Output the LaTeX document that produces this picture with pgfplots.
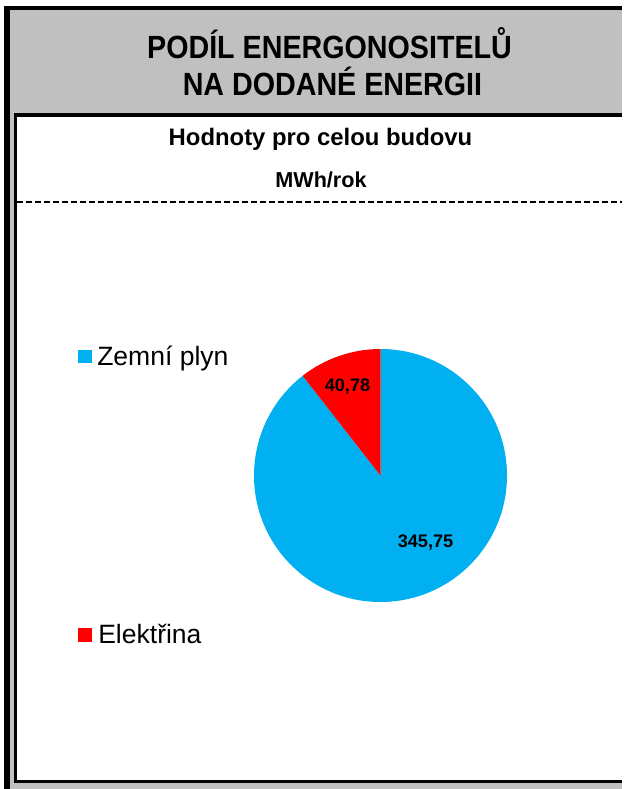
\documentclass[border=0pt]{standalone}
\usepackage{fontspec}
\setmainfont{Liberation Sans}
\usepackage{pgfplots}
\usepackage{pgfplotstable}
\pgfplotsset{compat=1.18}
\definecolor{gasblue}{HTML}{00B0F0}
\definecolor{elred}{HTML}{FF0000}
\definecolor{framegray}{HTML}{C0C0C0}
\pgfplotstableread{
label value
Zemni 345.75
Elektrina 40.78
}\piedata
\begin{document}
\begin{tikzpicture}
\begin{scope}[x=0.75pt,y=-0.75pt]
\fill[white] (0,0) rectangle (622,789);
\fill[framegray] (10,10) rectangle (622,789);
\fill[black] (4,6) rectangle (622,10);
\fill[black] (4,6) rectangle (10,789);
\fill[white] (17,117) rectangle (622,780);
\fill[black] (14,113) rectangle (622,117);
\fill[black] (14,113) rectangle (17,783);
\fill[black] (14,780) rectangle (622,783);
\draw[line width=1.8pt, dash pattern=on 4.5pt off 2.25pt] (17,202) -- (622,202);
\node[anchor=base, inner sep=0pt, font=\fontsize{21.5}{25}\selectfont\bfseries] at (329.5,58) {\scalebox{1}[1.12]{PODÍL ENERGONOSITELŮ}};
\node[anchor=base, inner sep=0pt, font=\fontsize{21.5}{25}\selectfont\bfseries] at (332.5,95) {\scalebox{1}[1.12]{NA DODANÉ ENERGII}};
\node[anchor=base, inner sep=0pt, font=\fontsize{17.9}{21}\selectfont\bfseries] at (320.5,145) {Hodnoty pro celou budovu};
\node[anchor=base, inner sep=0pt, font=\fontsize{16.2}{19}\selectfont\bfseries] at (321,187) {MWh/rok};
\fill[gasblue] (78,350) rectangle (92,363);
\node[anchor=base west, inner sep=0pt, font=\fontsize{19.9}{24}\selectfont] at (97,365) {Zemní plyn};
\fill[elred] (78,628) rectangle (92,642);
\node[anchor=base west, inner sep=0pt, font=\fontsize{19.9}{24}\selectfont] at (98,643) {Elektřina};
\end{scope}
\pgfplotstablegetelem{0}{value}\of\piedata \let\vA\pgfplotsretval
\pgfplotstablegetelem{1}{value}\of\piedata \let\vB\pgfplotsretval
\pgfmathsetmacro{\angB}{360*\vB/(\vA+\vB)}
\begin{axis}[at={(285.375pt,-356.625pt)}, anchor=center, x=94.875pt, y=94.875pt,
  xmin=-1, xmax=1, ymin=-1, ymax=1, hide axis, clip=false]
\fill[gasblue] (axis cs:0,0) -- (axis cs:0,1) arc[start angle=90, end angle={90-(360-\angB)}, radius=94.875pt] -- cycle;
\fill[elred] (axis cs:0,0) -- (axis cs:0,1) arc[start angle=90, end angle={90+\angB}, radius=94.875pt] -- cycle;
\node[anchor=base, inner sep=0pt, font=\fontsize{13.6}{16}\selectfont\bfseries] at (axis cs:-0.261,0.668) {40,78};
\node[anchor=base, inner sep=0pt, font=\fontsize{13.6}{16}\selectfont\bfseries] at (axis cs:0.356,-0.573) {345,75};
\end{axis}
\end{tikzpicture}
\end{document}
